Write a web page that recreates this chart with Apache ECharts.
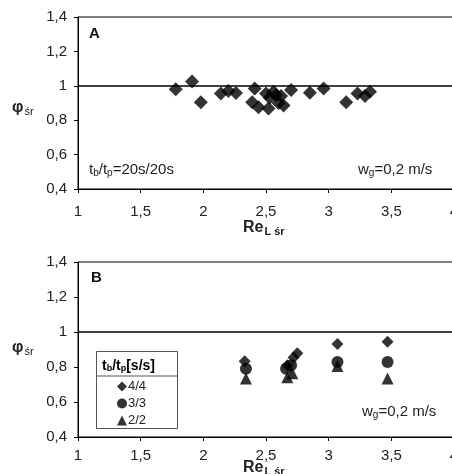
<!DOCTYPE html>
<html>
<head>
<meta charset="utf-8">
<script src="https://cdn.jsdelivr.net/npm/echarts@6/dist/echarts.min.js"></script>
<style>
  html, body { margin: 0; padding: 0; background: #fff; }
  #chart { width: 452px; height: 474px; }
</style>
</head>
<body>
<div id="chart"></div>
<script>
// panel A: tb/tp = 20s/20s
const reA = [1.78, 1.91, 1.98, 2.14, 2.20, 2.26, 2.41, 2.39, 2.44, 2.52, 2.50, 2.53, 2.56, 2.58, 2.60, 2.62, 2.64, 2.70, 2.85, 2.96, 3.14, 3.23, 3.29, 3.33]
const phiA = [0.98, 1.025, 0.905, 0.955, 0.97, 0.958, 0.985, 0.905, 0.875, 0.868, 0.955, 0.93, 0.965, 0.945, 0.90, 0.94, 0.885, 0.975, 0.96, 0.985, 0.905, 0.955, 0.94, 0.965]

// panel B: three cycle times
const re44 = [2.33, 2.67, 2.72, 2.75, 3.07, 3.47]
const phi44 = [0.833, 0.81, 0.855, 0.878, 0.931, 0.944]
const re33 = [2.34, 2.66, 2.70, 3.07, 3.47]
const phi33 = [0.79, 0.79, 0.81, 0.829, 0.829]
const re22 = [2.34, 2.67, 2.71, 3.07, 3.47]
const phi22 = [0.734, 0.742, 0.765, 0.806, 0.734]

const xTicks = { min: 1, max: 4, interval: 0.5 }
const yTicks = { min: 0.4, max: 1.4, interval: 0.2 }

const font = 'Liberation Sans, Arial, sans-serif'
const zip = (xs, ys) => xs.map((x, i) => [x, ys[i]])
const comma = v => String(+v.toFixed(1)).replace('.', ',')

const axisX = (idx, margin) => ({
  type: 'value',
  gridIndex: idx,
  ...xTicks,
  axisLine: { lineStyle: { color: '#000', width: 1 } },
  axisTick: { show: true, length: 4, lineStyle: { color: '#000' } },
  splitLine: { show: false },
  axisLabel: { fontFamily: font, fontSize: 15, color: '#222', margin, formatter: comma }
})
const axisY = idx => ({
  type: 'value',
  gridIndex: idx,
  ...yTicks,
  axisLine: { show: true, lineStyle: { color: '#000', width: 1 } },
  axisTick: { show: true, length: 4, lineStyle: { color: '#000' } },
  splitLine: { show: false },
  axisLabel: { fontFamily: font, fontSize: 15, color: '#222', margin: 11, formatter: comma }
})

const oneLine = {
  silent: true,
  symbol: 'none',
  label: { show: false },
  lineStyle: { color: '#000', width: 1.5, type: 'solid' },
  data: [{ yAxis: 1 }]
}

const sub = {
  t: { fontFamily: font, fontSize: 15, color: '#222' },
  s: { fontFamily: font, fontSize: 10, color: '#222', padding: [7, 0, 0, 0] }
}
const phiRich = {
  p: { fontFamily: font, fontSize: 16, fontWeight: 'bold', color: '#111' },
  s: { fontFamily: font, fontSize: 11, color: '#222', padding: [8, 0, 0, 1] }
}
const reRich = {
  r: { fontFamily: font, fontSize: 16, fontWeight: 'bold', color: '#111' },
  s: { fontFamily: font, fontSize: 11, fontWeight: 'bold', color: '#222', padding: [8, 0, 0, 1] }
}
const txt = (x, y, text, rich, extra) => ({
  type: 'text', left: x, top: y, silent: true,
  style: { text, rich, fontFamily: font, fontSize: 15, fill: '#222', ...extra }
})

const option = {
  animation: false,
  backgroundColor: '#fff',
  grid: [
    { left: 78, top: 17, width: 376, height: 172, show: true, borderColor: '#000', borderWidth: 1, outerBoundsMode: 'none' },
    { left: 78, top: 262, width: 376, height: 175, show: true, borderColor: '#000', borderWidth: 1, outerBoundsMode: 'none' }
  ],
  xAxis: [axisX(0, 15), axisX(1, 11)],
  yAxis: [axisY(0), axisY(1)],
  legend: {
    data: ['4/4', '3/3', '2/2'],
    orient: 'vertical',
    left: 117,
    top: 380,
    z: 100,
    itemWidth: 10,
    itemHeight: 10,
    itemGap: 4,
    padding: 0,
    textStyle: { fontFamily: font, fontSize: 13, color: '#222', padding: [0, 0, 0, -4] }
  },
  graphic: [
    txt(89, 26, 'A', null, { fontSize: 15, fontWeight: 'bold', fill: '#111' }),
    txt(91, 270, 'B', null, { fontSize: 15, fontWeight: 'bold', fill: '#111' }),
    txt(89, 162, '{t|t}{s|b}{t|/t}{s|p}{t|=20s/20s}', sub),
    txt(358, 162, '{t|w}{s|g}{t|=0,2 m/s}', sub),
    txt(362, 404, '{t|w}{s|g}{t|=0,2 m/s}', sub),
    txt(12, 100, '{p|φ}{s|śr}', phiRich),
    txt(12, 340, '{p|φ}{s|śr}', phiRich),
    txt(243, 220, '{r|Re}{s|L śr}', reRich),
    txt(243, 460, '{r|Re}{s|L śr}', reRich),
    {
      type: 'rect', left: 96, top: 351, silent: true,
      shape: { width: 81, height: 77 },
      style: { fill: '#fff', stroke: '#555', lineWidth: 1 },
      z: 50
    },
    {
      type: 'line', silent: true, z: 51,
      shape: { x1: 96, y1: 376, x2: 177, y2: 376 },
      style: { stroke: '#555', lineWidth: 1 }
    },
    {
      type: 'text', left: 102, top: 359, silent: true, z: 51,
      style: {
        text: '{t|t}{s|b}{t|/t}{s|p}{t|[s/s]}',
        rich: {
          t: { fontFamily: font, fontSize: 14, fontWeight: 'bold', color: '#111' },
          s: { fontFamily: font, fontSize: 9, fontWeight: 'bold', color: '#111', padding: [6, 0, 0, 0] }
        }
      }
    }
  ],
  series: [
    {
      name: 'A',
      type: 'scatter',
      xAxisIndex: 0, yAxisIndex: 0,
      symbol: 'diamond',
      symbolSize: 14,
      itemStyle: { color: '#000' },
      data: zip(reA, phiA),
      markLine: oneLine
    },
    {
      name: '2/2',
      type: 'scatter',
      xAxisIndex: 1, yAxisIndex: 1,
      symbol: 'triangle',
      symbolSize: 12,
      itemStyle: { color: '#000' },
      data: zip(re22, phi22),
      markLine: oneLine
    },
    {
      name: '3/3',
      type: 'scatter',
      xAxisIndex: 1, yAxisIndex: 1,
      symbol: 'circle',
      symbolSize: 12,
      itemStyle: { color: '#000' },
      data: zip(re33, phi33)
    },
    {
      name: '4/4',
      type: 'scatter',
      xAxisIndex: 1, yAxisIndex: 1,
      symbol: 'diamond',
      symbolSize: 12,
      itemStyle: { color: '#000' },
      data: zip(re44, phi44)
    }
  ]
}

const chart = echarts.init(document.getElementById('chart'), null, { renderer: 'canvas' })
chart.setOption(option)
</script>
</body>
</html>
